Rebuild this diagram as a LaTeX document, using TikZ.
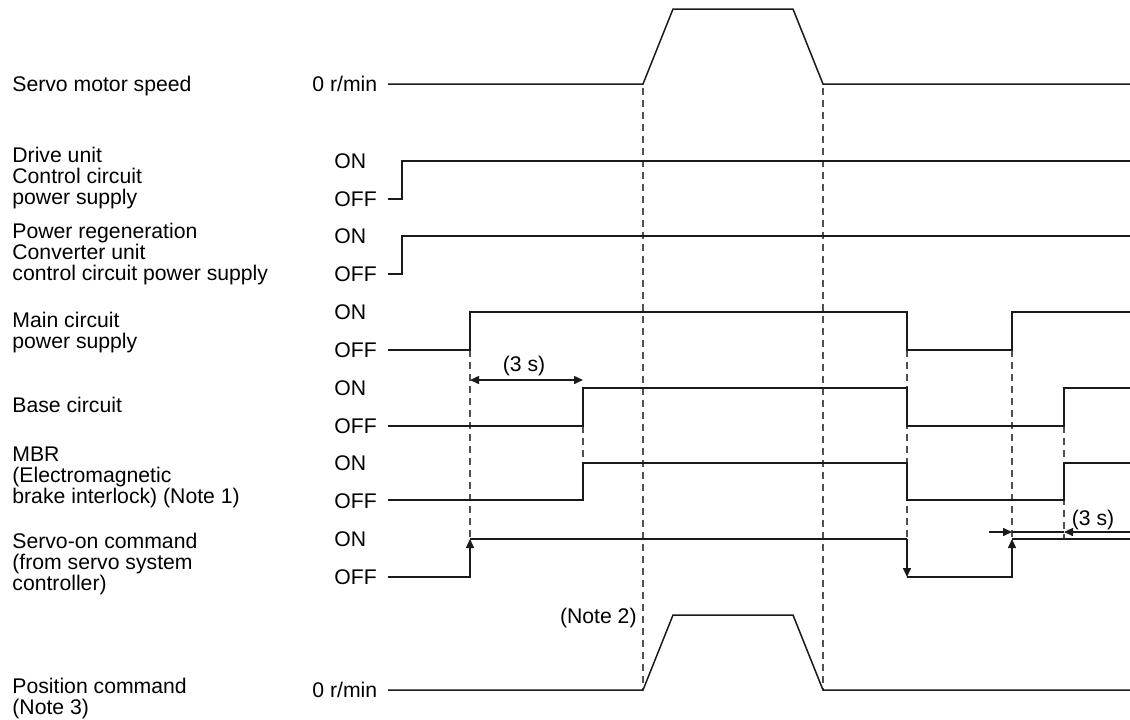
\documentclass[tikz,border=0pt]{standalone}
\usepackage{fontspec}
\setmainfont{Liberation Sans}
\usetikzlibrary{arrows.meta, positioning}
\definecolor{SignalBlack}{HTML}{1A1A1A}
\definecolor{GuideGray}{HTML}{505050}

\tikzset{
    signal/.style={line width=0.75pt, SignalBlack},
    guide/.style={line width=0.6pt, GuideGray, dash pattern=on 3.5pt off 2.5pt},
    lbl/.style={font=\fontsize{10.6}{10.5}\selectfont, inner sep=0pt, align=left, anchor=base west},
    state/.style={font=\fontsize{10.6}{10.5}\selectfont, inner sep=0pt, anchor=base west}
}

\begin{document}
\begin{tikzpicture}[x=0.5pt, y=-0.5pt, >={Triangle[length=4.5pt, width=4pt]}]
    \useasboundingbox (0,0) rectangle (1130,719);

    % Signal names (base = last line)
    \node[lbl] (speedname) at (12,91) {Servo motor speed};
    \node[lbl] (drivename) at (12,204) {Drive unit\\Control circuit\\power supply};
    \node[lbl] (regenname) at (12,280) {Power regeneration\\Converter unit\\control circuit power supply};
    \node[lbl] (mainname) at (12,348) {Main circuit\\power supply};
    \node[lbl] (basename) at (12,412) {Base circuit};
    \node[lbl] (mbrname) at (12,503) {MBR\\(Electromagnetic\\brake interlock) (Note 1)};
    \node[lbl] (sonname) at (12,590) {Servo-on command\\(from servo system\\controller)};
    \node[lbl] (posname) at (12,714) {Position command\\(Note 3)};

    % Levels
    \node[state] (speedzero) at (312,91) {0 r/min};
    \node[state] (poszero) at (312,697) {0 r/min};
    \foreach \sig/\on in {drive/161, regen/236, main/312, base/388, mbr/463, son/539}
    {
        \node[state] (\sig-on) at (334,\on+7.5) {ON};
        \node[state] (\sig-off) at (334,\on+45.5) {OFF};
    }

    % Guides
    \draw[guide] (643,88) -- (643,690);
    \draw[guide] (823,88) -- (823,690);
    \draw[guide] (470,350) -- (470,539);
    \draw[guide] (583,426) -- (583,463);
    \draw[guide] (907,350) -- (907,539);
    \draw[guide] (1012,350) -- (1012,539);
    \draw[guide] (1064,426) -- (1064,539);

    % Speed and position
    \draw[signal] (388,84) -- (643,84) -- (673,9) -- (793,9) -- (823,84) -- (1130,84);
    \draw[signal] (388,690) -- (643,690) -- (673,615) -- (793,615) -- (823,690) -- (1130,690);

    % Power supplies
    \draw[signal] (388,199) -- (402,199) -- (402,161) -- (1130,161);
    \draw[signal] (388,274) -- (402,274) -- (402,236) -- (1130,236);
    \draw[signal] (388,350) -- (470,350) -- (470,312) -- (907,312) -- (907,350) -- (1012,350) -- (1012,312) -- (1130,312);

    % Base circuit and MBR
    \draw[signal] (388,426) -- (583,426) -- (583,388) -- (907,388) -- (907,426) -- (1064,426) -- (1064,388) -- (1130,388);
    \draw[signal] (388,500) -- (583,500) -- (583,463) -- (907,463) -- (907,500) -- (1064,500) -- (1064,463) -- (1130,463);

    % Servo-on
    \draw[signal, ->] (388,577) -- (470,577) -- (470,539);
    \draw[signal] (470,539) -- (907,539);
    \draw[signal, ->] (907,539) -- (907,577);
    \draw[signal, ->] (907,577) -- (1012,577) -- (1012,539);
    \draw[signal] (1012,539) -- (1130,539);

    % Delays
    \draw[signal, <->] (470,380) -- (583,380);
    \node[state, anchor=base] (delayon) at (524,371) {(3 s)};
    \draw[signal, ->] (989,532) -- (1012,532);
    \draw[signal] (1012,532) -- (1064,532);
    \draw[signal, <-] (1064,532) -- (1130,532);
    \node[state, anchor=base] (delayoff) at (1093,525) {(3 s)};
    \node[state, anchor=base east] (note2) at (637,623) {(Note 2)};
\end{tikzpicture}
\end{document}
